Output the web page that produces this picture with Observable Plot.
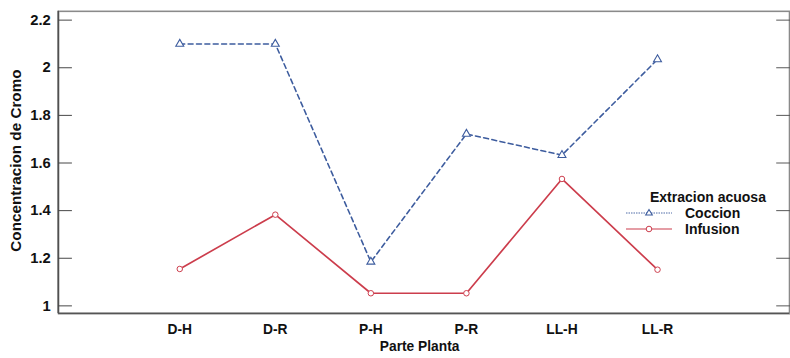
<!DOCTYPE html>
<html>
<head>
<meta charset="utf-8">
<script src="https://cdn.jsdelivr.net/npm/d3@7"></script>
<script src="https://cdn.jsdelivr.net/npm/@observablehq/plot@0.6"></script>
<style>
  html, body { margin: 0; padding: 0; background: #fff; overflow: hidden; width: 790px; height: 358px; }
  #wrap { position: relative; width: 790px; height: 358px; font-family: "Liberation Sans", Arial, sans-serif; }
  #legend { position: absolute; left: 626px; top: 189px; font-weight: bold; font-size: 14px; color: #111; }
  #legend .title { margin-left: 24px; line-height: 16px; }
  #legend .row { display: flex; align-items: center; height: 16px; }
  #legend .row span { margin-left: 13px; }
</style>
</head>
<body>
<div id="wrap"></div>
<script>
const categories = ["D-H", "D-R", "P-H", "P-R", "LL-H", "LL-R"];
const coccion = [2.10, 2.10, 1.185, 1.722, 1.633, 2.035];
const infusion = [1.155, 1.383, 1.053, 1.053, 1.533, 1.152];
const yTicks = [1, 1.2, 1.4, 1.6, 1.8, 2, 2.2];
const seriesNames = ["Coccion", "Infusion"];
const colors = {Coccion: "#3d5c9e", Infusion: "#cc3d4c"};

const data = [
  ...categories.map((c, i) => ({parte: c, valor: coccion[i], serie: "Coccion"})),
  ...categories.map((c, i) => ({parte: c, valor: infusion[i], serie: "Infusion"}))
];
const cocc = data.filter(d => d.serie === "Coccion");
const inf = data.filter(d => d.serie === "Infusion");

const chart = Plot.plot({
  width: 802,
  height: 358,
  marginLeft: 59,
  marginRight: 1,
  marginTop: 11,
  marginBottom: 40,
  style: {fontFamily: "Liberation Sans, Arial, sans-serif", fontSize: "14px", fontWeight: "bold", color: "#111", background: "#fff"},
  x: {type: "point", domain: categories, padding: 1.286, align: 0.48},
  y: {domain: [0.967, 2.237]},
  marks: [
    Plot.frame({stroke: "#8a8a8a", strokeWidth: 1.6}),
    Plot.axisY({anchor: "left", ticks: yTicks, tickSize: -14, tickPadding: 22, tickFormat: d => String(d), label: null, stroke: "#444", fontSize: 15}),
    Plot.axisY({anchor: "right", ticks: yTicks, tickSize: -14, tickFormat: () => "", label: null, stroke: "#555"}),
    Plot.axisX({tickSize: 0, tickPadding: 11, label: null, fontSize: 14}),
    Plot.line(cocc, {x: "parte", y: "valor", stroke: colors.Coccion, strokeWidth: 1.6, strokeDasharray: "5,3.5"}),
    Plot.line(inf, {x: "parte", y: "valor", stroke: colors.Infusion, strokeWidth: 1.7}),
    Plot.dot(cocc, {x: "parte", y: "valor", symbol: "triangle", r: 3, stroke: colors.Coccion, fill: "#fff", strokeWidth: 1.1}),
    Plot.dot(inf, {x: "parte", y: "valor", symbol: "circle", r: 2.8, stroke: colors.Infusion, fill: "#fff", strokeWidth: 1})
  ]
});
const wrap = document.getElementById("wrap");
wrap.appendChild(chart);

const svg = d3.select(chart);
const xr = chart.scale("x").range;
const yr = chart.scale("y").range;
// left axis line
svg.append("line").attr("x1", xr[0]).attr("x2", xr[0]).attr("y1", yr[0]).attr("y2", yr[1])
  .attr("stroke", "#444").attr("stroke-width", 1.4);
// bottom axis line slightly darker
svg.append("line").attr("x1", xr[0]).attr("x2", xr[1]).attr("y1", yr[0]).attr("y2", yr[0])
  .attr("stroke", "#555").attr("stroke-width", 1.6);

// axis titles
svg.append("text").attr("x", 426).attr("y", 356)
  .attr("text-anchor", "middle").attr("font-size", 14).attr("font-weight", "bold").attr("fill", "#111")
  .text("Parte Planta");
svg.append("text").attr("transform", "translate(21,163) rotate(-90)")
  .attr("text-anchor", "middle").attr("font-size", 15.5).attr("font-weight", "bold").attr("fill", "#111")
  .text("Concentracion de Cromo");

// legend
const legend = document.createElement("div");
legend.id = "legend";
let html = '<div class="title">Extracion acuosa</div>';
seriesNames.forEach(s => {
  const c = colors[s];
  const marker = s === "Coccion"
    ? `<path d="M23,3.5 L26.3,9 L19.7,9 Z" fill="#fff" stroke="${c}" stroke-width="1.1"/>`
    : `<circle cx="23" cy="7" r="2.8" fill="#fff" stroke="${c}" stroke-width="1"/>`;
  const dash = s === "Coccion" ? 'stroke-dasharray="1.5,1"' : '';
  html += `<div class="row"><svg width="46" height="14"><line x1="0" x2="46" y1="7" y2="7" stroke="${c}" stroke-width="${s === "Coccion" ? 0.9 : 1.2}" ${dash}/>${marker}</svg><span>${s}</span></div>`;
});
legend.innerHTML = html;
wrap.appendChild(legend);
</script>
</body>
</html>
